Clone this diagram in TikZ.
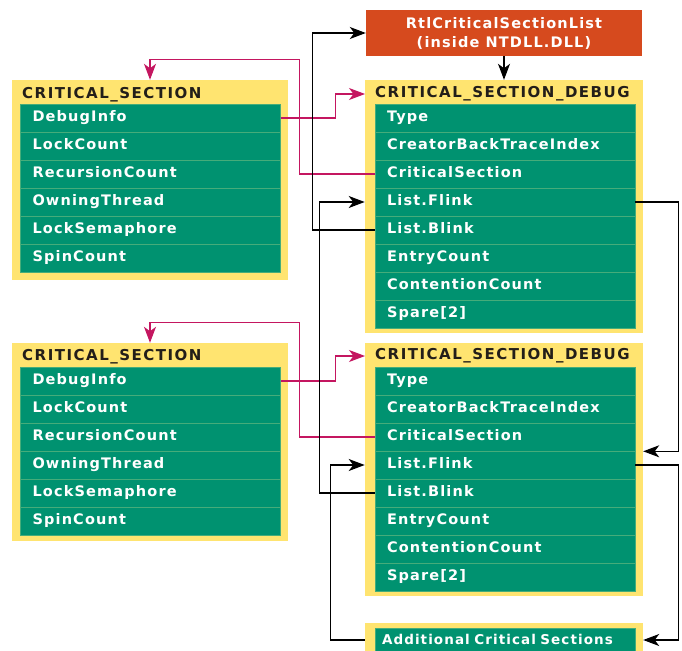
\documentclass[tikz,border=0pt]{standalone}
\usepackage{fontspec}
\usetikzlibrary{arrows.meta}
\newfontfamily\boxfont[LetterSpace=8]{DejaVu Sans}
\newfontfamily\titlefont[LetterSpace=10]{DejaVu Sans}
\definecolor{fieldgreen}{RGB}{0, 146, 112}
\definecolor{rowline}{RGB}{70, 172, 122}
\definecolor{boxyellow}{RGB}{255, 228, 112}
\definecolor{listred}{RGB}{214, 74, 30}
\definecolor{titleink}{RGB}{35, 30, 25}
\definecolor{debugpink}{RGB}{196, 22, 96}
\tikzstyle{structframe}=[fill=boxyellow,inner sep=0pt]
\tikzstyle{structtitle}=[anchor=west,inner xsep=10pt,inner ysep=0pt,text=titleink,font=\titlefont\bfseries\fontsize{15}{17}\selectfont]
\tikzstyle{fieldrow}=[fill=fieldgreen,draw=rowline,line width=0.6pt,text=white,font=\boxfont\bfseries\fontsize{14.5}{17}\selectfont,text width=236pt,inner xsep=12pt,inner ysep=0pt,text height=11pt,text depth=3.5pt,minimum height=28pt,align=left]
\tikzstyle{morerow}=[fieldrow,font=\boxfont\bfseries\fontsize{13.5}{16}\selectfont,text width=246pt,inner xsep=7pt]
\tikzstyle{listbox}=[fill=listred,text=white,font=\boxfont\bfseries\fontsize{14.5}{19}\selectfont,align=center,minimum width=276pt,minimum height=46pt]
\tikzstyle{pointerarc}=[->,>={Stealth[length=16pt,width=12pt,inset=4.5pt]},line width=1.1pt]
\tikzstyle{debugarc}=[pointerarc,draw=debugpink]
\tikzstyle{liftup}=[shift={(0,-20)}]

\begin{document}
\begin{tikzpicture}[x=1pt,y=-1pt]
\useasboundingbox (0,0) rectangle (682,650);
\clip (0,0) rectangle (682,650);

\node[listbox] (RTL) at (504,33) {RtlCriticalSectionList\\(inside NTDLL.DLL)};

\node[structframe,minimum width=276pt,minimum height=200pt] (CS1) at (150,180) {};
\node[structtitle] (CS1TITLE) at (12,95) {CRITICAL\_SECTION};
\node[fieldrow] (CS1DEBUGINFO) at (150.5,118) {DebugInfo};
\node[fieldrow] (CS1LOCKCOUNT) at (150.5,146) {LockCount};
\node[fieldrow] (CS1RECURSION) at (150.5,174) {RecursionCount};
\node[fieldrow] (CS1OWNER) at (150.5,202) {OwningThread};
\node[fieldrow] (CS1SEMAPHORE) at (150.5,230) {LockSemaphore};
\node[fieldrow] (CS1SPIN) at (150.5,258) {SpinCount};

\node[structframe,minimum width=276pt,minimum height=198pt] (CS2) at (150,442) {};
\node[structtitle] (CS2TITLE) at (12,357) {CRITICAL\_SECTION};
\node[fieldrow] (CS2DEBUGINFO) at (150.5,381) {DebugInfo};
\node[fieldrow] (CS2LOCKCOUNT) at (150.5,409) {LockCount};
\node[fieldrow] (CS2RECURSION) at (150.5,437) {RecursionCount};
\node[fieldrow] (CS2OWNER) at (150.5,465) {OwningThread};
\node[fieldrow] (CS2SEMAPHORE) at (150.5,493) {LockSemaphore};
\node[fieldrow] (CS2SPIN) at (150.5,521) {SpinCount};

\node[structframe,minimum width=278pt,minimum height=253pt] (DBG1) at (504,206.5) {};
\node[structtitle] (DBG1TITLE) at (365,94) {CRITICAL\_SECTION\_DEBUG};
\node[fieldrow] (DBG1TYPE) at (505,118) {Type};
\node[fieldrow] (DBG1BACKTRACE) at (505,146) {CreatorBackTraceIndex};
\node[fieldrow] (DBG1CRITSEC) at (505,174) {CriticalSection};
\node[fieldrow] (DBG1FLINK) at (505,202) {List.Flink};
\node[fieldrow] (DBG1BLINK) at (505,230) {List.Blink};
\node[fieldrow] (DBG1ENTRY) at (505,258) {EntryCount};
\node[fieldrow] (DBG1CONTENTION) at (505,286) {ContentionCount};
\node[fieldrow] (DBG1SPARE) at (505,314) {Spare[2]};

\node[structframe,minimum width=278pt,minimum height=253pt] (DBG2) at (504,469.5) {};
\node[structtitle] (DBG2TITLE) at (365,356) {CRITICAL\_SECTION\_DEBUG};
\node[fieldrow] (DBG2TYPE) at (505,381) {Type};
\node[fieldrow] (DBG2BACKTRACE) at (505,409) {CreatorBackTraceIndex};
\node[fieldrow] (DBG2CRITSEC) at (505,437) {CriticalSection};
\node[fieldrow] (DBG2FLINK) at (505,465) {List.Flink};
\node[fieldrow] (DBG2BLINK) at (505,493) {List.Blink};
\node[fieldrow] (DBG2ENTRY) at (505,521) {EntryCount};
\node[fieldrow] (DBG2CONTENTION) at (505,549) {ContentionCount};
\node[fieldrow] (DBG2SPARE) at (505,577) {Spare[2]};

\node[structframe,minimum width=278pt,minimum height=34pt] (MORE) at (504,640) {};
\node[morerow,minimum height=26pt] (MORETEXT) at (505,641) {Additional Critical Sections};

\coordinate[liftup] (CS1HOOK) at (CS1.north);
\coordinate[liftup] (CS2HOOK) at (CS2.north);

\draw[debugarc] (CS1DEBUGINFO.east) -- ++(55,0) |- (DBG1TITLE.west);
\draw[debugarc] (DBG1CRITSEC.west) -- ++(-75,0) |- (CS1HOOK) -- (CS1.north);
\draw[debugarc] (CS2DEBUGINFO.east) -- ++(55,0) |- (DBG2TITLE.west);
\draw[debugarc] (DBG2CRITSEC.west) -- ++(-75,0) |- (CS2HOOK) -- (CS2.north);

\draw[pointerarc] (RTL) -- (DBG1);
\draw[pointerarc] (DBG1BLINK.west) -- ++(-62,0) |- (RTL.west);
\draw[pointerarc,shorten >=10pt] (DBG2BLINK.west) -- ++(-55,0) |- (DBG1FLINK.west);
\draw[pointerarc,shorten >=10pt] (MORE.west) -- ++(-34,0) |- (DBG2FLINK.west);
\draw[pointerarc] (DBG1FLINK.east) -- ++(43,0) |- (DBG2.east |- DBG2CRITSEC.south);
\draw[pointerarc] (DBG2FLINK.east) -- ++(43,0) |- (MORE.east);

\end{tikzpicture}
\end{document}
